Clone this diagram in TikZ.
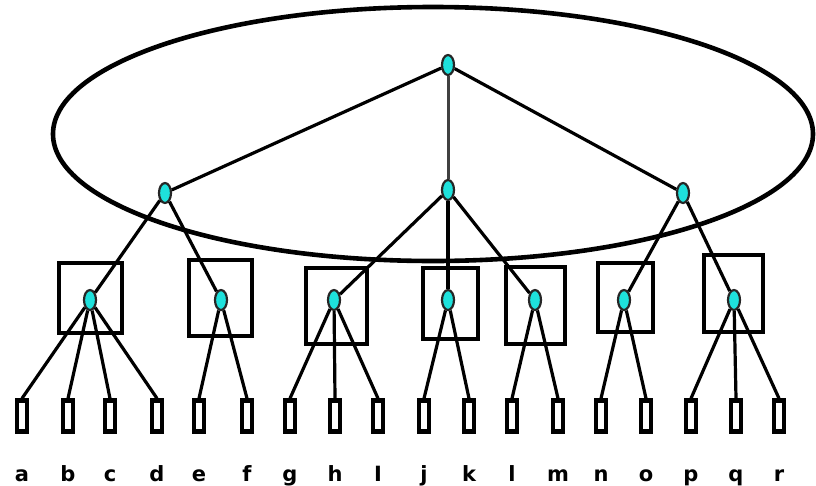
\documentclass[tikz,border=0pt]{standalone}
\usepackage{fontspec}
\setsansfont{DejaVu Sans}
\usepackage{tikz}
\usetikzlibrary{shapes.geometric}
\definecolor{CianNodo}{RGB}{30,225,220}

\begin{document}
\begin{tikzpicture}[x=1pt,y=-1pt,
  punto/.style={ellipse,draw=black!85,line width=2.2pt,fill=CianNodo,inner sep=0pt,minimum width=12pt,minimum height=20pt},
  caja/.style={line width=3.2pt},
  hoja/.style={draw,line width=4.2pt,inner sep=0pt,minimum width=10pt,minimum height=31pt},
  letra/.style={font=\sffamily\bfseries\fontsize{21}{23}\selectfont,inner sep=0pt,anchor=base},
  arista/.style={line width=3.2pt}]
  \useasboundingbox (0,0) rectangle (816,485);
  % nivel superior
  \draw[line width=4.6pt] (433,134) ellipse [x radius=380, y radius=127];
  \node[punto] (raiz) at (448,65) {};
  \node[punto] (m1) at (165,193) {};
  \node[punto] (m2) at (448,190) {};
  \node[punto] (m3) at (683,193) {};
  % cajas del nivel intermedio
  \foreach \x/\ya/\xb/\yb in {59/263/122/333,189/260/252/336,306/268/367/344,423/268/478/339,
                              506/267/565/344,598/263/653/332,704/255/763/332}
    \draw[caja] (\x,\ya) rectangle (\xb,\yb);
  \foreach \n/\x in {1/90,2/221,3/334,4/448,5/535,6/624,7/734}
    \node[punto] (g\n) at (\x,300) {};
  % hojas y letras
  \foreach \n/\x/\t in {a/22/a,b/68/b,c/110/c,d/157/d,e/199/e,f/247/f,g/290/g,h/335/h,i/378/I,
                        j/424/j,k/469/k,l/512/l,m/558/m,n/601/n,o/646/o,p/691/p,q/736/q,r/779/r}{
    \node[hoja] (h-\n) at (\x,416) {};
    \node[letra] (lab-\n) at (\x,481) {\t};
  }
  % aristas
  \draw[line width=3pt,black!75] (raiz) -- (m2);
  \foreach \u/\v in {raiz/m1,raiz/m3,m1/g1,m1/g2,m2/g3,m2/g4,m2/g5,m3/g6,m3/g7}
    \draw[arista] (\u) -- (\v);
  \foreach \u/\v in {g1/a,g1/b,g1/c,g1/d,g2/e,g2/f,g3/g,g3/h,g3/i,g4/j,g4/k,g5/l,g5/m,g6/n,g6/o,g7/p,g7/q,g7/r}
    \draw[arista] (\u) -- (h-\v.north);
\end{tikzpicture}
\end{document}
